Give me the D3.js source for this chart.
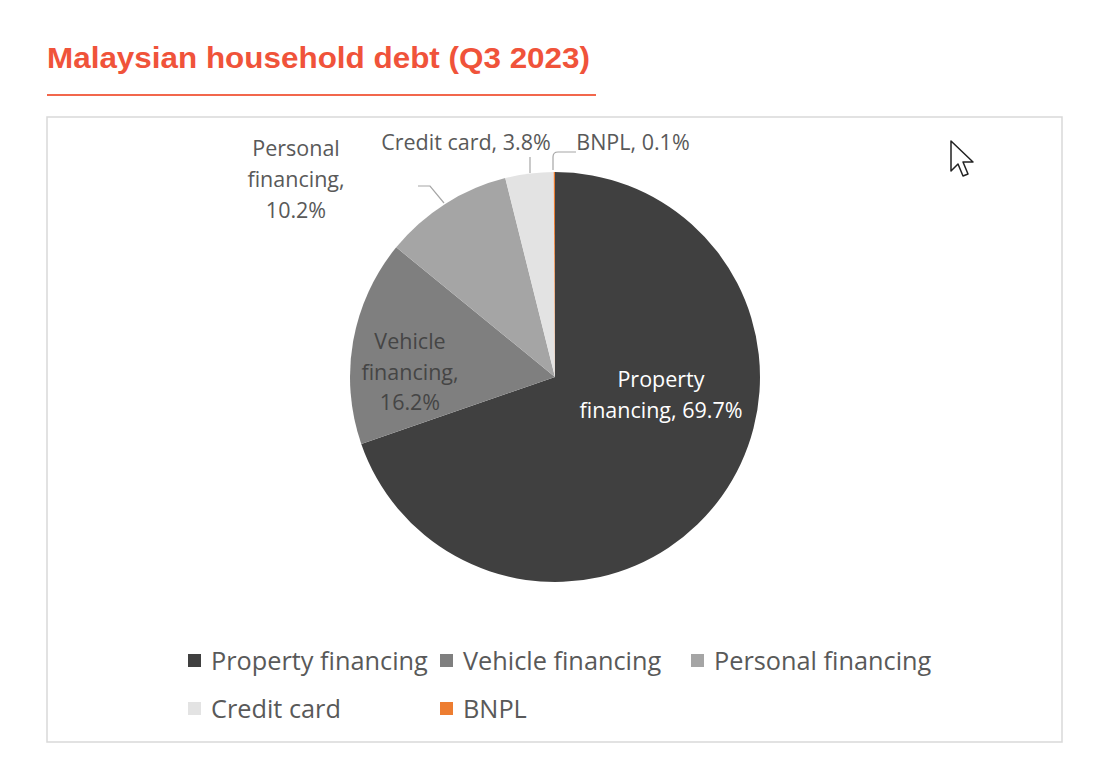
<!DOCTYPE html>
<html><head><meta charset="utf-8">
<script src="https://cdn.jsdelivr.net/npm/d3@7"></script>
<style>html,body{margin:0;padding:0;background:#fff;}svg{display:block;}</style>
</head><body>
<svg id="c" width="1120" height="760"></svg>
<script>
const categories = ["Property financing","Vehicle financing","Personal financing","Credit card","BNPL"];
const values = [69.7, 16.2, 10.2, 3.8, 0.1];
const colors = ["#404040","#7f7f7f","#a5a5a5","#e3e3e3","#ed7d31"];
const titleText = "Malaysian household debt (Q3 2023)";

const svg = d3.select("#c");

// title
svg.append("text").attr("x",47).attr("y",68).text(titleText)
  .attr("font-family","'Liberation Sans', Arial, sans-serif").attr("font-weight","bold")
  .attr("font-size",30).attr("fill","#f0533a")
  .attr("textLength",543).attr("lengthAdjust","spacingAndGlyphs");
svg.append("line").attr("x1",47).attr("x2",596).attr("y1",95).attr("y2",95)
  .attr("stroke","#f2674c").attr("stroke-width",2);

// frame
svg.append("rect").attr("x",47).attr("y",117).attr("width",1015).attr("height",625)
  .attr("fill","#fff").attr("stroke","#d9d9d9").attr("stroke-width",1.5);

const cx = 555, cy = 377, R = 205;
const pie = d3.pie().sort(null).value(d=>d.v);
const data = pie(categories.map((c,i)=>({c, v:values[i], col:colors[i]})));
const arc = d3.arc().innerRadius(0).outerRadius(R);
const g = svg.append("g").attr("transform",`translate(${cx},${cy})`);
g.selectAll("path").data(data).join("path").attr("d",arc)
  .attr("fill",d=>d.data.col).attr("stroke","none");

const lblColor = "#595959";
function multi(x,y,lines,fill,size,lh){
  const t = svg.append("text").attr("text-anchor","middle").attr("font-family","'Open Sans', sans-serif")
    .attr("font-size",size).attr("fill",fill);
  lines.forEach((l,i)=>t.append("tspan").attr("x",x).attr("y",y+i*lh).text(l));
}
const fmt = v => v.toFixed(1)+"%";
multi(661,387,[ "Property", "financing, "+fmt(values[0]) ],"#ffffff",21.5,31);
multi(410,349,[ "Vehicle", "financing,", fmt(values[1]) ],"#454545",21.5,30.5);
multi(296,156,[ "Personal", "financing,", fmt(values[2]) ],lblColor,21.5,31);
multi(466,150,[ categories[3]+", "+fmt(values[3]) ],lblColor,21.5,30);
multi(633,150,[ categories[4]+", "+fmt(values[4]) ],lblColor,21.5,30);

// leader lines
const lc = "#a6a6a6";
svg.append("path").attr("d","M418,186 L430,186 L444,203").attr("fill","none").attr("stroke",lc).attr("stroke-width",1.2);
svg.append("path").attr("d","M530,157 L530,173").attr("fill","none").attr("stroke",lc).attr("stroke-width",1.2);
svg.append("path").attr("d","M553,170 L553,157 Q553,152 558,152 L576,152").attr("fill","none").attr("stroke",lc).attr("stroke-width",1.2);

// legend
const legPos = [[188,661],[440,661],[691,661],[188,709],[440,709]];
categories.forEach((c,i)=>{
  const [x,y]=legPos[i];
  svg.append("rect").attr("x",x).attr("y",y-7).attr("width",13).attr("height",13).attr("fill",colors[i]);
  svg.append("text").attr("x",x+23).attr("y",y+9).text(c)
    .attr("font-family","'Open Sans', sans-serif").attr("font-size",25.3).attr("fill",lblColor);
});

// mouse cursor artifact
svg.append("path").attr("d","M951,141 L951,171 L958,164 L963,176 L968,174 L963,162 L973,162 Z")
  .attr("fill","#fff").attr("stroke","#222").attr("stroke-width",1.5).attr("stroke-linejoin","round");
</script>
</body></html>
